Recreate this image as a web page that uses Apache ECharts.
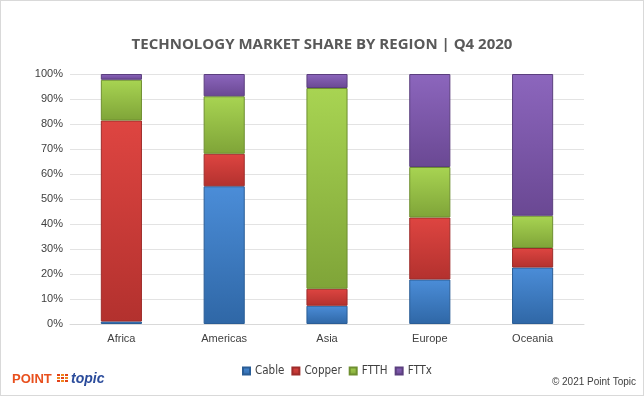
<!DOCTYPE html>
<html>
<head>
<meta charset="utf-8">
<script src="https://cdn.jsdelivr.net/npm/echarts@6/dist/echarts.min.js"></script>
<style>
  html, body { margin: 0; padding: 0; background: #fff; }
  #chart { width: 644px; height: 396px; box-sizing: border-box; border: 1px solid #d9d9d9; }
</style>
</head>
<body>
<div id="chart"></div>
<script>
const regions = ['Africa', 'Americas', 'Asia', 'Europe', 'Oceania']
const cable = [1.0, 55.1, 7.3, 17.8, 22.6]
const copper = [80.4, 13.0, 6.8, 24.8, 7.8]
const ftth = [16.3, 23.0, 80.3, 20.2, 12.9]
const fttx = [2.3, 8.9, 5.6, 37.2, 56.7]
const yTicks = [0, 10, 20, 30, 40, 50, 60, 70, 80, 90, 100]

const grad = (top, bottom) => new echarts.graphic.LinearGradient(0, 0, 0, 1, [
  { offset: 0, color: top },
  { offset: 1, color: bottom }
])

const mkSeries = (name, data, top, bottom, edge, legendColor) => ({
  name,
  type: 'bar',
  stack: 'share',
  barWidth: '40%',
  data,
  color: legendColor,
  itemStyle: {
    color: grad(top, bottom),
    borderColor: edge,
    borderWidth: 1
  }
})

const chart = echarts.init(document.getElementById('chart'))
chart.setOption({
  animation: false,
  backgroundColor: '#fff',
  title: {
    text: 'TECHNOLOGY MARKET SHARE BY REGION | Q4 2020',
    left: 'center',
    top: 31,
    textStyle: { fontFamily: 'Open Sans', fontWeight: 'bold', fontSize: 15, color: '#595959' }
  },
  grid: { left: 69, right: 59, top: 73, bottom: 71 },
  legend: {
    bottom: 13,
    left: 236,
    itemWidth: 7,
    itemHeight: 7,
    itemGap: 7,
    icon: 'rect',
    textStyle: { fontFamily: 'DejaVu Sans Condensed', fontSize: 11.5, color: '#404040', padding: [0, 0, 0, 0] },
    data: ['Cable', 'Copper', 'FTTH', 'FTTx']
  },
  xAxis: {
    type: 'category',
    data: regions,
    axisTick: { show: false },
    axisLine: { lineStyle: { color: '#d9d9d9' } },
    axisLabel: { fontFamily: 'Liberation Sans', fontSize: 11, color: '#404040', margin: 9 }
  },
  yAxis: {
    type: 'value',
    min: 0,
    max: 100,
    interval: 10,
    axisLine: { show: false },
    axisTick: { show: false },
    splitLine: { lineStyle: { color: '#e3e3e3' } },
    axisLabel: {
      fontFamily: 'Liberation Sans', fontSize: 11, color: '#404040', margin: 7,
      formatter: v => yTicks.includes(v) ? v + '%' : ''
    }
  },
  series: [
    mkSeries('Cable', cable, '#4b8dd8', '#2f67a6', '#2a5d96', '#3f7fc8'),
    mkSeries('Copper', copper, '#de4541', '#b3312e', '#9e2c2a', '#c73936'),
    mkSeries('FTTH', ftth, '#a8d452', '#7fa438', '#6e8f30', '#92bc44'),
    mkSeries('FTTx', fttx, '#8c66bd', '#6a4893', '#5b3f7e', '#7a56a8')
  ],
  graphic: [
    {
      type: 'text', left: 11, top: 372,
      style: { text: 'POINT', fontFamily: 'Liberation Sans', fontWeight: 'bold', fontSize: 13, fill: '#e8501e' }
    },
    {
      type: 'group', left: 56, top: 373,
      children: [0, 1, 2].flatMap(c => [0, 1, 2].map(r => ({
        type: 'rect',
        shape: { x: c * 4, y: r * 3, width: 3, height: 2 },
        style: { fill: (c + r) % 2 ? '#f08a1c' : '#e3421a' }
      })))
    },
    {
      type: 'text', left: 70, top: 371,
      style: { text: 'topic', fontFamily: 'Liberation Sans', fontWeight: 'bold', fontStyle: 'italic', fontSize: 14, fill: '#2a4b9b' }
    },
    {
      type: 'text', right: 7, top: 376,
      style: { text: '© 2021 Point Topic', fontFamily: 'Liberation Sans', fontSize: 10, fill: '#404040' }
    }
  ]
})
</script>
</body>
</html>
